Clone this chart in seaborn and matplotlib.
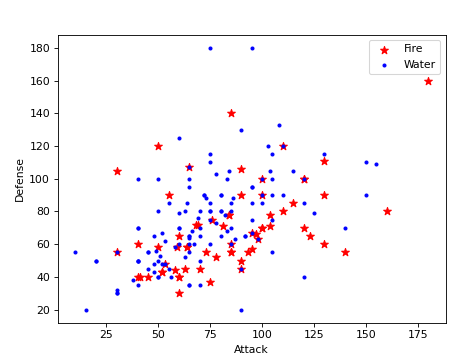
import matplotlib
matplotlib.use("Agg")
import matplotlib.pyplot as plt
import seaborn as sns
import pandas as pd

# Fire types: attack / defense
fire_attack = [52, 64, 84, 130, 104, 41, 76, 70, 110, 85, 100, 95, 130, 100,
               52, 64, 84, 40, 50, 60, 90, 90, 75, 115, 130, 60, 85, 120, 160,
               60, 100, 120, 85, 180, 58, 78, 104, 95, 65, 90, 100, 63, 93, 123,
               53, 98, 90, 140, 30, 30, 40, 55, 97, 85, 60, 120, 45, 59, 69,
               73, 81, 50, 68, 110]
fire_defense = [43, 58, 78, 111, 78, 40, 75, 45, 80, 55, 70, 57, 60, 90,
                43, 58, 78, 40, 120, 30, 50, 90, 37, 85, 90, 40, 60, 70, 80,
                40, 70, 100, 140, 160, 44, 52, 71, 67, 107, 106, 100, 45, 55, 65,
                48, 63, 45, 55, 105, 55, 60, 90, 66, 55, 65, 100, 40, 58, 72,
                55, 71, 58, 72, 120]

# Water types: attack / defense
water_attack = [48, 63, 83, 103, 52, 82, 50, 65, 95, 40, 70, 65, 75, 75, 45, 70,
                65, 95, 105, 130, 40, 65, 67, 92, 45, 75, 10, 125, 155, 85, 65,
                40, 60, 80, 115, 65, 80, 105, 38, 58, 20, 50, 75, 45, 85, 75,
                95, 55, 65, 105, 40, 95, 75, 70, 85, 110, 150, 30, 50, 70, 30,
                50, 30, 90, 120, 140, 70, 90, 48, 78, 80, 120, 15, 60, 40, 60,
                80, 64, 104, 84, 90, 30, 100, 150, 51, 66, 86, 85, 65, 105, 48,
                83, 49, 69, 20, 120, 80, 100, 65, 55, 75, 100, 53, 98, 50, 65,
                95, 92, 78, 108, 40, 87, 40, 60, 75, 72, 72, 56, 63, 95, 52,
                105, 60, 53, 73, 110]
water_defense = [65, 80, 100, 120, 48, 78, 40, 65, 95, 35, 65, 65, 110, 180, 55, 80,
                 100, 180, 90, 115, 70, 95, 60, 65, 55, 85, 55, 79, 109, 80, 60,
                 100, 125, 90, 105, 64, 80, 100, 38, 58, 50, 80, 75, 45, 85, 80,
                 85, 85, 35, 75, 70, 95, 115, 50, 70, 90, 110, 30, 50, 70, 30,
                 100, 32, 20, 40, 70, 35, 45, 43, 73, 65, 85, 20, 79, 50, 70,
                 90, 85, 105, 105, 130, 55, 90, 90, 53, 68, 88, 60, 35, 55, 48,
                 68, 56, 76, 50, 100, 80, 100, 107, 45, 60, 85, 48, 63, 40, 55,
                 75, 65, 103, 133, 50, 63, 50, 70, 80, 90, 90, 40, 52, 67, 67,
                 115, 60, 62, 88, 120]

fire = pd.DataFrame({"Attack": fire_attack, "Defense": fire_defense})
water = pd.DataFrame({"Attack": water_attack, "Defense": water_defense})

fig = plt.figure(figsize=(477 / 78, 361 / 78), dpi=78)
ax = fig.add_axes([57.7 / 477, 38.3 / 361, 388 / 477, 288 / 361])

sns.scatterplot(data=fire, x="Attack", y="Defense", marker="*", color="red",
                edgecolor="red", linewidth=1.0, s=55, label="Fire", ax=ax)
sns.scatterplot(data=water, x="Attack", y="Defense", marker=".", color="blue",
                edgecolor="blue", linewidth=1.0, s=30, label="Water", ax=ax)

ax.set_xticks([25, 50, 75, 100, 125, 150, 175])
ax.set_yticks(range(20, 181, 20))
ax.set_xlabel("Attack")
ax.set_ylabel("Defense")
ax.legend(loc="upper right")

fig.savefig("out.png", dpi=78)
